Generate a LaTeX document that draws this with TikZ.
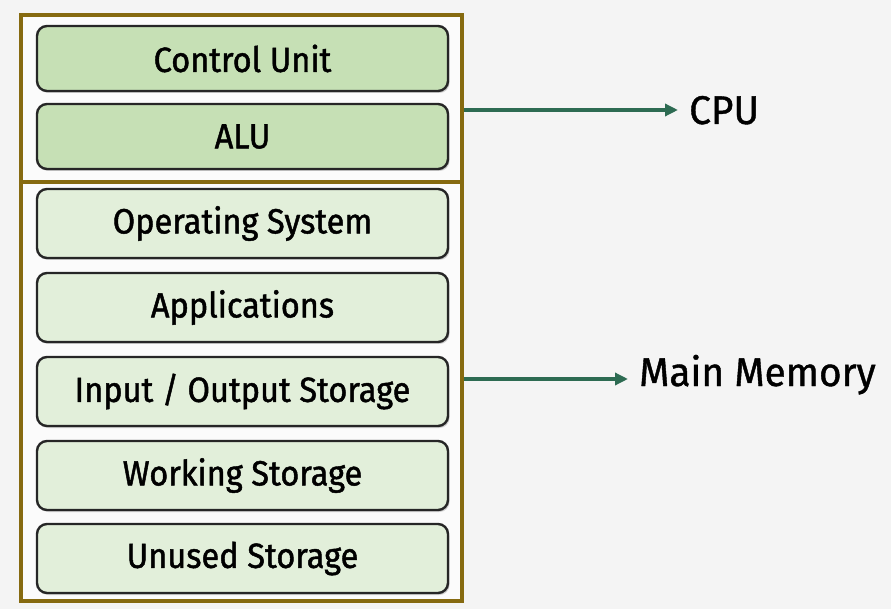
\documentclass[tikz,border=0pt]{standalone}
\usepackage{fontspec}
\setmainfont{Fira Sans}
\newfontfamily\boxfont{Fira Sans}[FakeBold=1.3, FakeStretch=0.93]
\newfontfamily\lblfont{Fira Sans}[FakeBold=1.0, FakeStretch=0.97]
\usetikzlibrary{shadows,arrows.meta}
\definecolor{bgc}{HTML}{F4F4F4}
\definecolor{framec}{HTML}{866A10}
\definecolor{cpufill}{HTML}{C6E0B5}
\definecolor{memfill}{HTML}{E2EFDA}
\definecolor{arrowc}{HTML}{2D6B52}
\tikzset{
  frame/.style={draw=framec, line width=4.5pt, fill=white!60!bgc, minimum width=441pt, inner sep=0pt},
  unitbox/.style={draw=black!85, line width=2.4pt, rounded corners=10pt, minimum width=411pt, inner sep=0pt,
     drop shadow={opacity=0.35, shadow xshift=1.5pt, shadow yshift=-2pt}, font=\boxfont\fontsize{35}{40}\selectfont},
  cpubox/.style={unitbox, fill=cpufill, minimum height=65pt},
  membox/.style={unitbox, fill=memfill, minimum height=69pt},
  conn/.style={draw=arrowc, line width=4pt, -{Triangle[length=13pt,width=12pt]}},
  lbl/.style={anchor=base west, inner sep=0pt, font=\lblfont\fontsize{40}{46}\selectfont}
}
\begin{document}
\begin{tikzpicture}[x=1pt,y=-1pt]
\useasboundingbox[fill=bgc] (0,0) rectangle (891,609);
\node[frame, minimum height=167pt] (cpuframe) at (241.5,98.5) {};
\node[frame, minimum height=419pt] (memframe) at (241.5,391.5) {};
\node[cpubox] (cu) at (242.5,58.5) {Control Unit};
\node[cpubox] (alu) at (242.5,136.5) {ALU};
\node[membox] (os) at (242.5,223.5) {Operating System};
\node[membox] (app) at (242.5,307.5) {Applications};
\node[membox] (io) at (242.5,391.5) {Input / Output Storage};
\node[membox] (ws) at (242.5,475.5) {Working Storage};
\node[membox] (us) at (242.5,558.5) {Unused Storage};
\node[lbl] (cpu) at (689,124) {CPU};
\node[lbl] (mm) at (639,386) {Main Memory};
\coordinate (cputip) at (678,110);
\coordinate (mmtip) at (628,379);
\draw[conn] (cpuframe.east |- cputip) -- (cputip);
\draw[conn] (memframe.east |- mmtip) -- (mmtip);
\end{tikzpicture}
\end{document}
